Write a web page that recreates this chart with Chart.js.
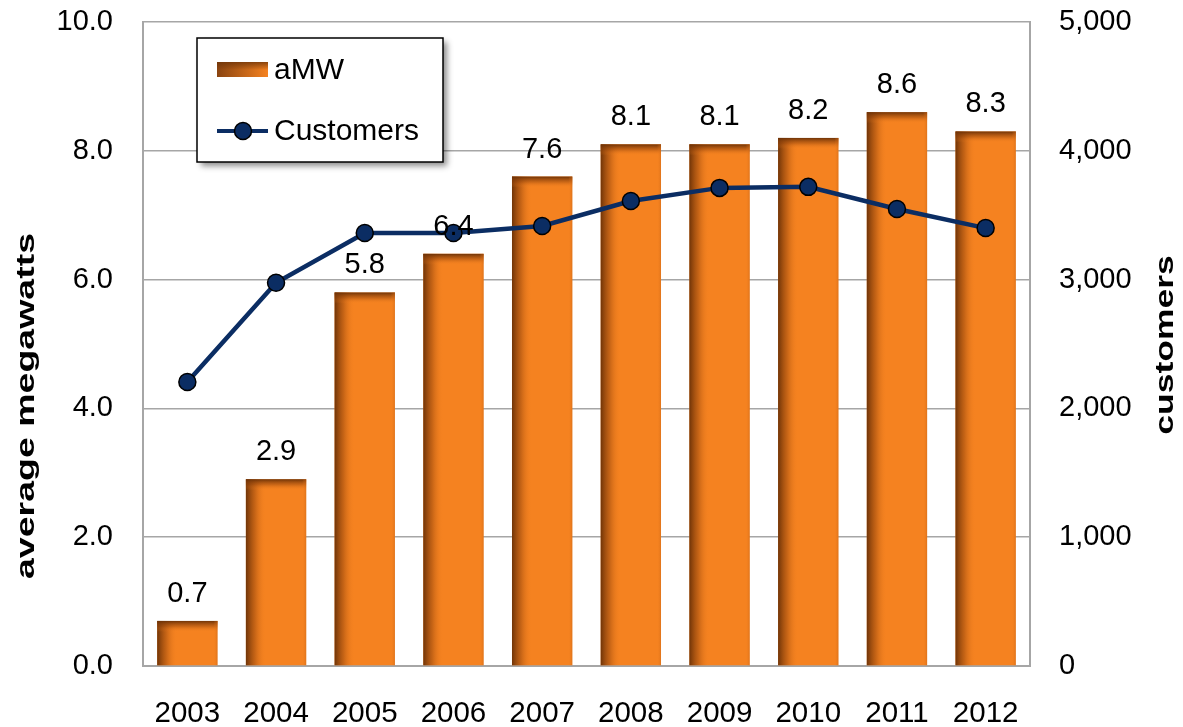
<!DOCTYPE html>
<html>
<head>
<meta charset="utf-8">
<script src="https://cdn.jsdelivr.net/npm/chart.js@4.4.1/dist/chart.umd.min.js"></script>
<style>
  html, body { margin: 0; padding: 0; background: #fff; }
  #wrap { width: 1183px; height: 727px; position: relative; }
</style>
</head>
<body>
<div id="wrap"><canvas id="c" width="1183" height="727"></canvas></div>
<script>
const years = ['2003','2004','2005','2006','2007','2008','2009','2010','2011','2012'];
const amw = [0.7, 2.9, 5.8, 6.4, 7.6, 8.1, 8.1, 8.2, 8.6, 8.3];
const customers = [2205, 2975, 3362, 3362, 3416, 3610, 3712, 3720, 3548, 3400];
const leftTitle = 'average megawatts';
const rightTitle = 'customers';
const seriesNames = ['aMW', 'Customers'];

const FONT = "'Liberation Sans', Arial, sans-serif";
const ORANGE = '#F58220';
const NAVY = '#0B2D63';
const GRID = '#A6A6A6';

const barShade = {
  id: 'barShade',
  afterDatasetDraw(chart, args) {
    if (args.index !== 0) return;
    const ctx = chart.ctx;
    const meta = chart.getDatasetMeta(0);
    meta.data.forEach(b => {
      const l = b.x - b.width / 2, r = b.x + b.width / 2, t = b.y, bot = b.base;
      ctx.save();
      let g = ctx.createLinearGradient(l, 0, l + 20, 0);
      g.addColorStop(0, 'rgba(105,48,6,0.95)');
      g.addColorStop(0.45, 'rgba(150,70,12,0.5)');
      g.addColorStop(1, 'rgba(245,130,32,0)');
      ctx.fillStyle = g;
      ctx.fillRect(l, t, 20, bot - t);
      g = ctx.createLinearGradient(0, t, 0, t + 11);
      g.addColorStop(0, 'rgba(105,48,6,0.95)');
      g.addColorStop(0.5, 'rgba(150,70,12,0.45)');
      g.addColorStop(1, 'rgba(245,130,32,0)');
      ctx.fillStyle = g;
      ctx.fillRect(l, t, r - l, Math.min(11, bot - t));
      g = ctx.createLinearGradient(r - 4, 0, r, 0);
      g.addColorStop(0, 'rgba(245,130,32,0)');
      g.addColorStop(1, 'rgba(200,100,20,0.5)');
      ctx.fillStyle = g;
      ctx.fillRect(r - 4, t, 4, bot - t);
      ctx.restore();
    });
  }
};

const overlay = {
  id: 'overlay',
  afterDatasetsDraw(chart) {
    const ctx = chart.ctx;
    const meta = chart.getDatasetMeta(0);
    ctx.save();
    ctx.font = '29px ' + FONT;
    ctx.fillStyle = '#000';
    ctx.textAlign = 'center';
    ctx.textBaseline = 'middle';
    meta.data.forEach((b, i) => {
      ctx.fillText(amw[i].toFixed(1), b.x, b.y - 27);
    });
    ctx.restore();
  },
  afterDraw(chart) {
    const ctx = chart.ctx;
    ctx.save();
    ctx.fillStyle = '#000';
    ctx.font = 'bold 25px ' + FONT;
    ctx.textAlign = 'center';
    ctx.textBaseline = 'middle';
    ctx.save();
    ctx.translate(27, 406);
    ctx.rotate(-Math.PI / 2);
    ctx.scale(1.5, 1);
    ctx.fillText(leftTitle, 0, 0);
    ctx.restore();
    ctx.save();
    ctx.translate(1166, 345);
    ctx.rotate(-Math.PI / 2);
    ctx.scale(1.42, 1);
    ctx.fillText(rightTitle, 0, 0);
    ctx.restore();
    ctx.restore();

    const bx = 197, by = 38, bw = 246, bh = 124;
    ctx.save();
    ctx.shadowColor = 'rgba(0,0,0,0.45)';
    ctx.shadowBlur = 6;
    ctx.shadowOffsetX = 4;
    ctx.shadowOffsetY = 4;
    ctx.fillStyle = '#fff';
    ctx.fillRect(bx, by, bw, bh);
    ctx.restore();
    ctx.save();
    ctx.strokeStyle = '#000';
    ctx.lineWidth = 1.5;
    ctx.strokeRect(bx, by, bw, bh);
    let g = ctx.createLinearGradient(217, 0, 268, 0);
    g.addColorStop(0, '#8A4410');
    g.addColorStop(1, ORANGE);
    ctx.fillStyle = g;
    ctx.fillRect(217, 62, 51, 15);
    g = ctx.createLinearGradient(0, 62, 0, 70);
    g.addColorStop(0, 'rgba(110,52,8,0.8)');
    g.addColorStop(1, 'rgba(110,52,8,0)');
    ctx.fillStyle = g;
    ctx.fillRect(217, 62, 51, 8);
    ctx.strokeStyle = NAVY;
    ctx.lineWidth = 4;
    ctx.beginPath();
    ctx.moveTo(217, 131);
    ctx.lineTo(268, 131);
    ctx.stroke();
    ctx.beginPath();
    ctx.arc(243, 131, 8.5, 0, Math.PI * 2);
    ctx.fillStyle = NAVY;
    ctx.fill();
    ctx.lineWidth = 1.5;
    ctx.strokeStyle = '#000';
    ctx.stroke();
    ctx.fillStyle = '#000';
    ctx.font = '30px ' + FONT;
    ctx.textAlign = 'left';
    ctx.textBaseline = 'middle';
    ctx.fillText(seriesNames[0], 274, 71);
    ctx.fillText(seriesNames[1], 274, 132);
    ctx.restore();
  }
};

function noPad(s) { s.paddingTop = 0; s.paddingBottom = 0; s.paddingLeft = 0; s.paddingRight = 0; }

new Chart(document.getElementById('c'), {
  data: {
    labels: years,
    datasets: [
      {
        type: 'bar',
        label: seriesNames[0],
        data: amw,
        yAxisID: 'y',
        backgroundColor: ORANGE,
        borderWidth: 0,
        categoryPercentage: 1.0,
        barPercentage: 0.68,
        order: 2
      },
      {
        type: 'line',
        label: seriesNames[1],
        data: customers,
        yAxisID: 'y1',
        borderColor: NAVY,
        borderWidth: 4.5,
        pointRadius: 8.5,
        pointBackgroundColor: NAVY,
        pointBorderColor: '#000',
        pointBorderWidth: 1.5,
        tension: 0,
        order: 1
      }
    ]
  },
  options: {
    responsive: false,
    animation: false,
    devicePixelRatio: 1,
    layout: { padding: { top: 22, left: 0, right: 0, bottom: 0 } },
    plugins: { legend: { display: false }, tooltip: { enabled: false } },
    scales: {
      x: {
        offset: true,
        grid: { display: false, drawTicks: false },
        border: { display: true, color: GRID, width: 2 },
        ticks: { color: '#000', font: { family: FONT, size: 29.5 }, padding: 30, maxRotation: 0 },
        afterFit(s) { s.height = 61; noPad(s); }
      },
      y: {
        position: 'left',
        min: 0, max: 10,
        ticks: { stepSize: 2, color: '#000', font: { family: FONT, size: 29 }, padding: 30,
                 callback: v => Number(v).toFixed(1) },
        grid: { color: GRID, lineWidth: 1.5, drawTicks: false },
        border: { display: true, color: GRID, width: 2 },
        afterFit(s) { s.width = 143; noPad(s); }
      },
      y1: {
        position: 'right',
        min: 0, max: 5000,
        ticks: { stepSize: 1000, color: '#000', font: { family: FONT, size: 29 }, padding: 29,
                 callback: v => Number(v).toLocaleString('en-US') },
        grid: { display: false, drawTicks: false },
        border: { display: true, color: GRID, width: 2 },
        afterFit(s) { s.width = 153; noPad(s); }
      }
    }
  },
  plugins: [barShade, overlay]
});
</script>
</body>
</html>
